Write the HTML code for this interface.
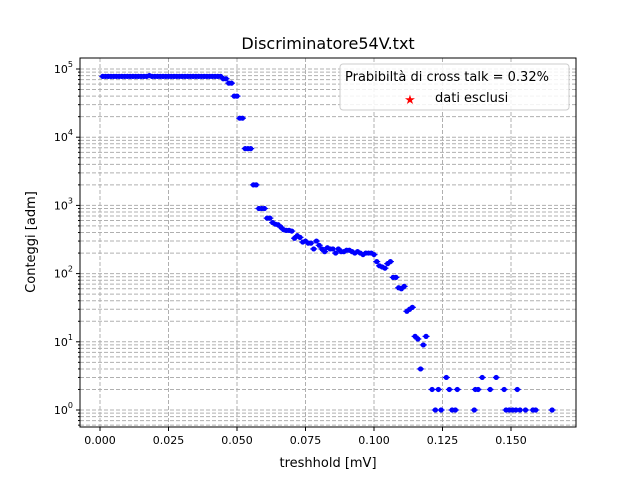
<!DOCTYPE html>
<html><head><meta charset="utf-8"><style>
body{margin:0;background:#fff;font-family:"Liberation Sans","DejaVu Sans",sans-serif}
svg text{font-family:"DejaVu Sans","Liberation Sans",sans-serif}
</style></head><body>
<svg id="chart" width="640" height="480" xmlns="http://www.w3.org/2000/svg">
<rect width="640" height="480" fill="#fff"/>
<g id="grid"></g><g id="marks"></g><g id="axes"></g>
<text x="328" y="49" text-anchor="middle" font-size="16">Discriminatore54V.txt</text>
<text x="328" y="467" text-anchor="middle" font-size="13">treshhold [mV]</text>
<text x="35" y="242" text-anchor="middle" font-size="13" transform="rotate(-90 35 242)">Conteggi [adm]</text>
<g>
<rect x="340" y="64" width="229" height="46" rx="3" fill="#fff" fill-opacity="0.85" stroke="#ccc"/>
<text x="345" y="81" font-size="13">Prabibiltà di cross talk = 0.32%</text>
<text x="410" y="104" text-anchor="middle" font-size="13" fill="red">★</text>
<text x="435" y="102" font-size="13">dati esclusi</text>
</g>
</svg>
<script>
const xs=[0.001,0.002,0.003,0.004,0.005,0.006,0.007,0.008,0.009,0.010,0.011,0.012,0.013,0.014,0.015,0.016,0.017,0.018,0.019,0.020,0.021,0.022,0.023,0.024,0.025,0.026,0.027,0.028,0.029,0.030,0.031,0.032,0.033,0.034,0.035,0.036,0.037,0.038,0.039,0.040,0.041,0.042,0.043,0.044,0.045,0.046,0.047,0.048,0.049,0.050,0.051,0.052,0.053,0.054,0.055,0.056,0.057,0.058,0.059,0.060,0.061,0.062,0.063,0.064,0.065,0.066,0.067,0.068,0.069,0.070,0.071,0.072,0.073,0.074,0.075,0.076,0.077,0.078,0.079,0.080,0.081,0.082,0.083,0.084,0.085,0.086,0.087,0.088,0.089,0.090,0.091,0.092,0.093,0.094,0.095,0.096,0.097,0.098,0.099,0.100,0.101,0.102,0.103,0.104,0.105,0.106,0.107,0.108,0.109,0.110,0.111,0.112,0.113,0.114,0.115,0.116,0.117,0.118,0.119,0.1212,0.1224,0.1235,0.1245,0.1264,0.1275,0.1285,0.1297,0.1304,0.1366,0.137,0.138,0.1395,0.1424,0.1446,0.1475,0.1482,0.1494,0.1506,0.1518,0.1523,0.1533,0.1553,0.158,0.159,0.165];
const ys=[78000,78000,78000,78000,78000,78000,78000,78000,78000,78000,78000,78000,78000,78000,78000,78000,78000,80000,78000,78000,78000,78000,78000,78000,78000,78000,78000,78000,78000,78000,78000,78000,78000,78000,78000,78000,78000,78000,78000,78000,78000,78000,78000,78000,72000,72000,62000,62000,40000,40000,19000,19000,6800,6800,6800,2000,2000,900,900,900,650,650,560,530,520,480,440,430,430,420,330,360,340,290,300,280,280,230,300,260,230,210,240,230,230,200,230,210,210,220,220,210,200,210,200,190,200,200,200,190,150,130,125,120,140,150,88,88,62,60,65,28,30,32,12,11,4,9,12,2,1,2,1,3,2,1,1,2,1,2,2,3,2,3,2,1,1,1,1,2,1,1,1,1,1];
const xTicks=[0.000,0.025,0.050,0.075,0.100,0.125,0.150];
const yDecades=[0,1,2,3,4,5];
const X=v=>100+(v)*2740;
const Y=v=>410-Math.log10(v)*68.2;
const NS="http://www.w3.org/2000/svg";
function mk(t,a,p){const e=document.createElementNS(NS,t);for(const k in a)e.setAttribute(k,a[k]);p.appendChild(e);return e;}
const grid=document.getElementById('grid'),marks=document.getElementById('marks'),axes=document.getElementById('axes');
const L=80,R=576,T=58,B=427;
xTicks.forEach(t=>{const x=X(t);
const g=mk('line',{x1:x,x2:x,y1:T,y2:B,stroke:'#b0b0b0','stroke-dasharray':'4,2'},grid);

mk('line',{x1:x,x2:x,y1:B,y2:B+4,stroke:'#000'},axes);
const tx=mk('text',{x:x,y:B+17,'text-anchor':'middle','font-size':'11'},axes);tx.textContent=t.toFixed(3);
});
yDecades.forEach(d=>{for(let m=1;m<10;m++){const v=m*Math.pow(10,d);const y=Y(v);if(y<T||y>B)continue;
mk('line',{x1:L,x2:R,y1:y,y2:y,stroke:'#b0b0b0','stroke-dasharray':'4,2'},grid);
mk('line',{x1:L-(m==1?4:2),x2:L,y1:y,y2:y,stroke:'#000'},axes);}
const y=Y(Math.pow(10,d));const tx=mk('text',{x:L-7,y:y+4,'text-anchor':'end','font-size':'11'},axes);
tx.innerHTML='10<tspan dy="-6" font-size="8">'+d+'</tspan>';
});
for(let m=6;m<10;m++){const y=Y(m/10);if(y<=B){mk('line',{x1:L,x2:R,y1:y,y2:y,stroke:'#b0b0b0','stroke-dasharray':'4,2'},grid);mk('line',{x1:L-2,x2:L,y1:y,y2:y,stroke:'#000'},axes);}}
xs.forEach((x,i)=>{const px=X(x),py=Y(ys[i]);
const c=mk('circle',{cx:px,cy:py,r:2.6,fill:'#0000ff'},marks);

mk('line',{x1:px-3.5,x2:px+3.5,y1:py,y2:py,stroke:'#0000ff','stroke-width':1.2},marks);});
const f=mk('rect',{x:L,y:T,width:R-L,height:B-T,fill:'none',stroke:'#000'},axes);

</script>
</body></html>
